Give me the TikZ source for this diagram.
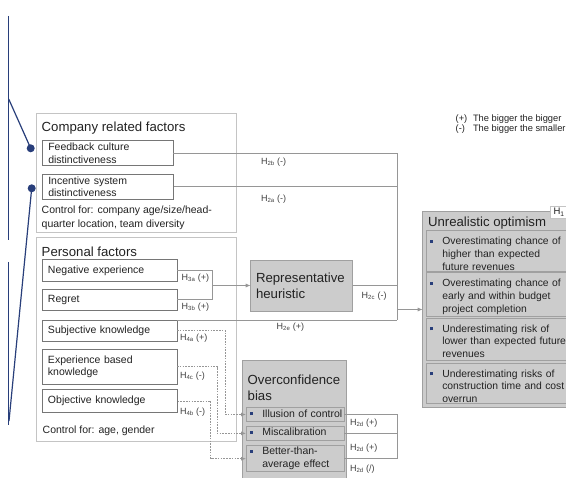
\documentclass[tikz,border=0pt]{standalone}
\usepackage{fontspec}
\setmainfont{Liberation Sans}
\usetikzlibrary{arrows.meta}

\definecolor{navy}{RGB}{40,62,122}
\definecolor{fillgray}{RGB}{204,204,204}
\definecolor{edgegray}{RGB}{160,160,160}
\definecolor{groupedge}{RGB}{196,196,196}
\definecolor{factoredge}{RGB}{118,118,118}
\definecolor{wiregray}{RGB}{150,150,150}
\definecolor{inkgray}{RGB}{34,34,34}

\newcommand\FontHead{\fontsize{13.2}{16.2}\selectfont}
\newcommand\FontBody{\fontsize{10.5}{12.7}\selectfont}
\newcommand\FontItem{\fontsize{10.35}{12.7}\selectfont}
\newcommand\FontNote{\fontsize{10.5}{14}\selectfont}
\newcommand\FontHyp{\fontsize{9}{10}\selectfont}
\newcommand\FontKey{\fontsize{9.3}{9.3}\selectfont}
\newcommand\bulletmark{\makebox[12.3pt][l]{\textcolor{navy}{\rule[2pt]{3pt}{3pt}}}}
\newcommand\bulleted[1]{\bulletmark\begin{tabular}[t]{@{}l@{}}#1\end{tabular}}

\begin{document}
\begin{tikzpicture}[x=1pt,y=-1pt,
  every node/.style={inner sep=0pt,outer sep=0pt,text=inkgray},
  group/.style={draw=groupedge,line width=0.8pt,anchor=north west},
  factor/.style={draw=factoredge,line width=0.8pt,fill=white,anchor=north west,
    inner xsep=6pt,align=left,font=\FontBody},
  bias/.style={draw=edgegray,line width=0.8pt,fill=fillgray,anchor=north west},
  sub/.style={draw=edgegray,line width=0.6pt,fill=fillgray,anchor=north west,
    inner xsep=4pt,align=left,font=\FontBody},
  outcome/.style={sub,font=\FontItem,minimum width=164pt,text width=156pt,
    text height=14pt,inner ysep=0pt},
  heading/.style={anchor=west,align=left,font=\FontHead},
  hyp/.style={anchor=west,font=\FontHyp,text=black!75},
  wire/.style={draw=wiregray,line width=0.8pt},
  arrowwire/.style={wire,-{Latex[length=5pt,width=4pt]}},
  dotwire/.style={wire,dash pattern=on 1.6pt off 1.2pt,-{Latex[length=5pt,width=4pt]}},
  navyline/.style={draw=navy,line width=1.2pt},
  dot/.style={circle,fill=navy,minimum size=8pt}
]
\useasboundingbox (0,0) rectangle (566,478);

% ---- navy brackets on the left
\coordinate (sa1) at (8.7,16);
\coordinate (sa2) at (8.7,240);
\coordinate (sab) at (8.7,99);
\coordinate (sb1) at (8.7,262);
\coordinate (sb2) at (8.7,425);
\coordinate (sbb) at (9,421);
\node[dot] (dotA) at (30.7,148.3) {};
\node[dot] (dotB) at (31.7,188.3) {};
\draw[navyline] (sa1) -- (sa2);
\draw[navyline] (sab) -- (dotA.center);
\draw[navyline] (sb1) -- (sb2);
\draw[navyline] (sbb) -- (dotB.center);

% ---- company related factors
\node[group,minimum width=200pt,minimum height=119pt] (company) at (36,113) {};
\node[heading] (companyhead) at (41.7,128) {Company related factors};
\node[factor,minimum width=131pt,minimum height=25pt,text width=119pt] (feedback) at (42.3,140.7)
  {Feedback culture\\distinctiveness};
\node[factor,minimum width=131.5pt,minimum height=25.3pt,text width=119.5pt] (incentive) at (42.3,174)
  {Incentive system\\distinctiveness};
\node[anchor=west,align=left,font=\FontNote] (companyctrl) at (41.7,217.5)
  {Control for: company age/size/head-\\quarter location, team diversity};

% ---- personal factors
\node[group,minimum width=200pt,minimum height=204pt] (personal) at (36,237) {};
\node[heading] (personalhead) at (41.7,251.7) {Personal factors};
\node[factor,minimum width=135pt,minimum height=22.4pt,text width=123pt] (negexp) at (42,259.3) {Negative experience};
\node[factor,minimum width=135pt,minimum height=21.7pt,text width=123pt] (regret) at (42,289) {Regret};
\node[factor,minimum width=135pt,minimum height=21.7pt,text width=123pt] (subj) at (42,320) {Subjective knowledge};
\node[factor,minimum width=135pt,minimum height=34.7pt,text width=123pt] (expk) at (42,349.3) {Experience based\\knowledge};
\node[factor,minimum width=135.5pt,minimum height=23.4pt,text width=123.5pt] (objk) at (42,389.3) {Objective knowledge};
\node[anchor=west,font=\FontBody] (personalctrl) at (42.7,431) {Control for: age, gender};

% ---- mediators
\node[bias,minimum width=102pt,minimum height=51pt,inner xsep=5.3pt,text width=91.4pt,
  align=left,font=\FontHead] (rep) at (250.7,260) {Representative\\heuristic};

\node[bias,minimum width=104pt,minimum height=125pt] (overconf) at (242.7,360) {};
\node[heading] (overconfhead) at (247.7,387.5) {Overconfidence\\bias};
\node[sub,minimum width=98pt,minimum height=14.4pt,text width=90pt] (illusion) at (246,407.3)
  {\bulleted{Illusion of control}};
\node[sub,minimum width=98pt,minimum height=13.3pt,text width=90pt] (miscal) at (246,426.7)
  {\bulleted{Miscalibration}};
\node[sub,minimum width=98pt,minimum height=26pt,text width=90pt] (bta) at (246,445.7)
  {\bulleted{Better-than-\\average effect}};

% ---- outcome
\node[bias,minimum width=170pt,minimum height=195.6pt] (optimism) at (422.7,211.7) {};
\node[heading] (optimismhead) at (428,223.3) {Unrealistic optimism};
\node[draw=groupedge,line width=0.6pt,fill=white,anchor=north west,minimum width=24pt,
  minimum height=12.5pt,inner xsep=3.5pt,align=left,text width=17pt,
  font=\fontsize{9.5}{10}\selectfont] (hone) at (550,206) {H\textsubscript{1}};
\node[outcome,text depth=27pt] (opt1) at (426,230.7)
  {\bulleted{Overestimating chance of\\higher than expected\\future revenues}};
\node[outcome,text depth=29.3pt] (opt2) at (426,272.7)
  {\bulleted{Overestimating chance of\\early and within budget\\project completion}};
\node[outcome,text depth=27.7pt] (opt3) at (426,318.3)
  {\bulleted{Underestimating risk of\\lower than expected future\\revenues}};
\node[outcome,text depth=26pt] (opt4) at (426,363.3)
  {\bulleted{Underestimating risks of\\construction time and cost\\overrun}};

% ---- legend
\node[anchor=west,font=\FontKey] (legend) at (455.7,124.7)
  {\begin{tabular}{@{}l@{\hspace{5.7pt}}l@{}}(+) & The bigger the bigger\\(-) & The bigger the smaller\end{tabular}};

% ---- connectors
\coordinate (trunk) at (397,320);
\draw[wire] (feedback.east) -| (trunk);
\draw[wire] (incentive.east) -- (incentive.east -| trunk);
\draw[wire] (rep.east) -- (rep.east -| trunk);
\draw[wire] (subj.north east) -- (trunk);
\draw[arrowwire] (optimism.west -| trunk) -- (optimism.west);

\coordinate (hthree) at (212.3,285.5);
\draw[wire] (negexp.east) -| (hthree);
\draw[wire] (regret.east) -| (hthree);
\draw[arrowwire] (hthree) -- (rep.west);

\coordinate (dA) at (225.7,0);
\coordinate (dB) at (217.3,0);
\coordinate (dC) at (210.7,0);
\draw[dotwire] (subj.east) -| (dA |- illusion.west) -- (illusion.west);
\draw[dotwire] (expk.east) -| (dB |- miscal.west) -- (miscal.west);
\draw[dotwire] (objk.east) -| (dC |- bta.west) -- (bta.west);

\coordinate (htwod) at (397,0);
\draw[wire] (illusion.east) -- (illusion.east -| htwod) -- (bta.east -| htwod) -- (bta.east);
\draw[wire] (miscal.east) -- (miscal.east -| htwod);

% ---- hypothesis labels
\node[hyp] (lab2b) at (261,162.3) {H\textsubscript{2b} (-)};
\node[hyp] (lab2a) at (261,199) {H\textsubscript{2a} (-)};
\node[hyp] (lab3a) at (181.7,277.7) {H\textsubscript{3a} (+)};
\node[hyp] (lab3b) at (181.7,307.3) {H\textsubscript{3b} (+)};
\node[hyp] (lab2c) at (361.7,295.7) {H\textsubscript{2c} (-)};
\node[hyp] (lab2e) at (276.7,327.3) {H\textsubscript{2e} (+)};
\node[hyp] (lab4a) at (180,338.3) {H\textsubscript{4a} (+)};
\node[hyp] (lab4c) at (180,375.7) {H\textsubscript{4c} (-)};
\node[hyp] (lab4b) at (180,411.7) {H\textsubscript{4b} (-)};
\node[hyp] (lab2d1) at (350,422.7) {H\textsubscript{2d} (+)};
\node[hyp] (lab2d2) at (350,447.7) {H\textsubscript{2d} (+)};
\node[hyp] (lab2d3) at (350,469.3) {H\textsubscript{2d} (/)};
\end{tikzpicture}
\end{document}
